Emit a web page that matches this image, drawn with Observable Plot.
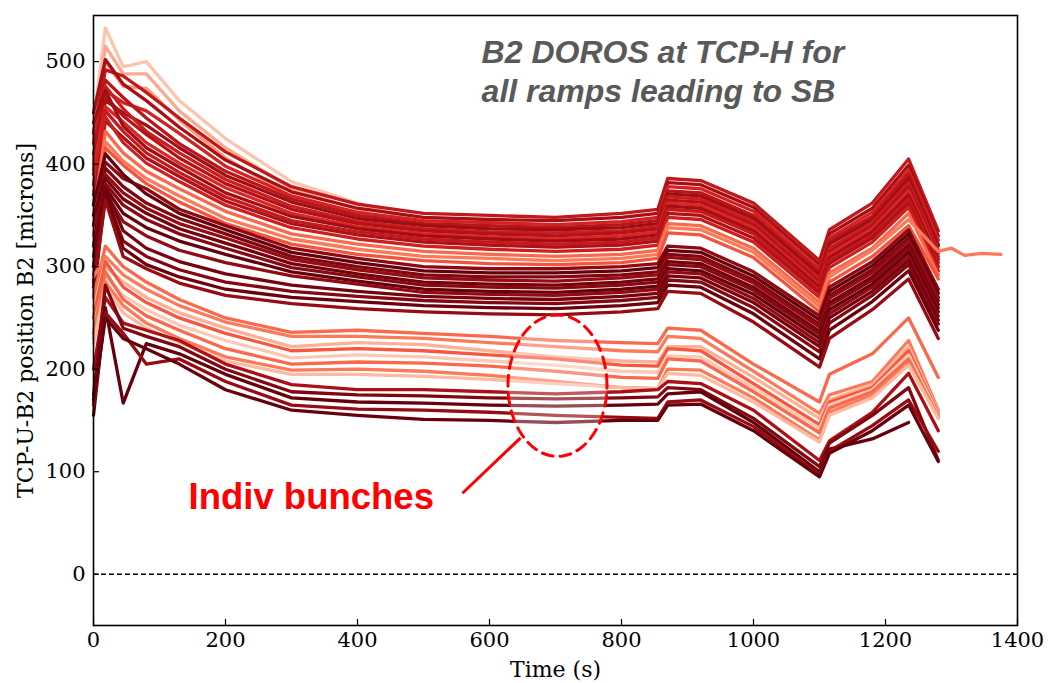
<!DOCTYPE html>
<html><head><meta charset="utf-8">
<script src="https://cdn.jsdelivr.net/npm/d3@7"></script>
<script src="https://cdn.jsdelivr.net/npm/@observablehq/plot@0.6"></script>
<style>body{margin:0;background:#fff;} svg{display:block}</style>
</head><body><div id="chart"></div>
<script>
// sample times (s)
const times = [0, 18, 45, 80, 130, 200, 300, 400, 500, 600, 700, 800, 855, 870, 920, 1000, 1100, 1115, 1180, 1235, 1280];
const xTicks = [0, 200, 400, 600, 800, 1000, 1200, 1400];
const yTicks = [0, 100, 200, 300, 400, 500];

// upper group: light
const u1 = [440, 533, 495, 500, 462, 425, 383, 362, 342, 337, 335, 337, 340, 370, 368, 347, 292, 320, 346, 382, 302];
const u2 = [425, 515, 488, 488, 452, 416, 376, 356, 333, 329, 327, 330, 334, 363, 361, 341, 286, 313, 339, 372, 296];
const u3 = [405, 500, 476, 474, 443, 406, 368, 349, 326, 321, 319, 323, 327, 356, 353, 334, 281, 306, 331, 364, 291];
// upper group: medium red
const m1 = [430, 492, 486, 470, 445, 412, 378, 361, 352, 350, 348, 352, 356, 386, 384, 362, 306, 336, 362, 405, 335];
const m2 = [450, 502, 478, 462, 436, 404, 373, 357, 348, 346, 345, 348, 352, 382, 380, 358, 302, 332, 357, 399, 330];
const m3 = [400, 472, 460, 452, 430, 398, 369, 353, 345, 343, 341, 344, 348, 378, 376, 354, 298, 328, 353, 394, 326];
const m4 = [420, 482, 465, 445, 420, 393, 366, 350, 342, 340, 338, 341, 345, 374, 372, 350, 295, 325, 349, 390, 322];
const m5 = [380, 462, 450, 438, 416, 389, 363, 347, 340, 337, 336, 338, 342, 371, 369, 347, 292, 322, 346, 386, 320];
const m6 = [432, 476, 454, 432, 411, 385, 359, 344, 337, 334, 333, 335, 339, 368, 366, 344, 288, 318, 343, 382, 316];
const m7 = [410, 466, 447, 429, 406, 381, 356, 342, 335, 332, 330, 333, 337, 365, 363, 341, 285, 315, 340, 378, 313];
const m8 = [395, 456, 441, 421, 401, 377, 352, 339, 332, 329, 327, 330, 334, 362, 360, 338, 282, 312, 337, 374, 310];
const m9 = [440, 472, 437, 416, 397, 372, 349, 337, 330, 327, 325, 327, 331, 359, 357, 335, 280, 309, 334, 370, 307];
const m10 = [370, 452, 432, 411, 392, 368, 345, 334, 327, 324, 322, 324, 328, 356, 354, 332, 277, 306, 331, 366, 304];
const m11 = [360, 442, 426, 406, 388, 364, 342, 331, 324, 321, 319, 321, 325, 352, 350, 328, 274, 303, 328, 362, 300];
const m12 = [390, 446, 421, 401, 383, 360, 338, 327, 320, 317, 315, 317, 321, 348, 346, 324, 270, 299, 324, 358, 296];
// upper group: salmon
const s1 = [350, 432, 411, 393, 376, 354, 332, 322, 315, 312, 310, 312, 316, 342, 340, 318, 265, 294, 318, 352, 292];
const s2 = [340, 422, 403, 386, 369, 347, 327, 317, 310, 308, 306, 308, 312, 338, 336, 314, 261, 290, 316, 346, 315];
const s3 = [330, 416, 399, 381, 363, 342, 322, 312, 306, 303, 302, 304, 308, 333, 331, 309, 256, 285, 310, 340, 288];
// continuation of s2 after 1280 s
const s2ExtTimes = [1300, 1320, 1345, 1375];
const s2ExtValues = [318, 311, 313, 312];
// upper group: dark red
const d1 = [340, 402, 386, 376, 356, 340, 318, 308, 300, 298, 298, 300, 303, 320, 318, 295, 252, 280, 305, 336, 278];
const d2 = [360, 410, 390, 371, 352, 336, 314, 304, 296, 294, 294, 296, 299, 316, 314, 291, 248, 276, 301, 332, 274];
const d3v = [320, 396, 378, 362, 347, 332, 310, 300, 292, 290, 290, 292, 295, 312, 310, 287, 244, 272, 297, 328, 270];
const d4 = [300, 390, 372, 357, 342, 328, 307, 297, 289, 287, 286, 289, 292, 309, 307, 284, 241, 269, 294, 325, 267];
const d5 = [350, 386, 366, 352, 337, 323, 303, 293, 285, 283, 282, 285, 288, 305, 303, 280, 237, 265, 290, 321, 263];
const d6 = [290, 381, 360, 346, 332, 318, 299, 290, 282, 280, 279, 282, 285, 302, 300, 277, 234, 262, 287, 318, 260];
const d7 = [310, 377, 352, 338, 325, 312, 295, 286, 278, 276, 275, 278, 281, 298, 296, 273, 230, 258, 283, 314, 256];
const d8 = [280, 372, 344, 330, 316, 304, 291, 283, 275, 273, 272, 275, 278, 295, 293, 269, 226, 254, 280, 310, 252];
const d9 = [300, 376, 335, 318, 305, 293, 282, 276, 271, 269, 268, 271, 274, 291, 289, 265, 222, 250, 276, 306, 248];
const d10 = [285, 370, 325, 310, 297, 285, 276, 271, 267, 265, 264, 267, 270, 287, 285, 260, 217, 245, 272, 302, 244];
const d11 = [270, 372, 318, 302, 290, 278, 270, 266, 262, 260, 259, 262, 265, 282, 280, 254, 210, 238, 266, 296, 238];
const d12 = [280, 365, 310, 298, 284, 272, 264, 259, 256, 254, 253, 256, 259, 276, 274, 246, 202, 230, 258, 288, 230];
// lower group (individual bunches)
const b1 = [270, 320, 300, 285, 268, 250, 236, 238, 235, 232, 228, 226, 225, 240, 238, 205, 168, 195, 215, 250, 192];
const b2 = [290, 310, 292, 278, 262, 246, 232, 232, 230, 226, 222, 218, 217, 232, 230, 198, 157, 175, 188, 228, 160];
const b3 = [260, 300, 285, 270, 255, 240, 222, 226, 224, 218, 212, 208, 207, 222, 222, 192, 152, 170, 185, 222, 158];
const b4 = [250, 305, 280, 265, 250, 235, 218, 220, 218, 214, 210, 204, 203, 220, 218, 186, 146, 168, 182, 218, 156];
const b5 = [240, 290, 272, 258, 243, 228, 211, 214, 212, 208, 204, 198, 197, 213, 212, 182, 142, 165, 180, 214, 155];
const b6 = [235, 295, 268, 252, 238, 220, 205, 207, 206, 203, 198, 192, 191, 210, 208, 178, 138, 162, 178, 210, 153];
const b7 = [230, 285, 262, 245, 230, 212, 199, 200, 198, 194, 188, 182, 181, 200, 199, 172, 131, 158, 175, 206, 154];
const b8 = [225, 280, 255, 240, 226, 208, 195, 195, 193, 190, 186, 182, 181, 196, 194, 168, 129, 155, 172, 204, 152];
const b9 = [200, 270, 245, 238, 228, 205, 185, 180, 180, 178, 176, 178, 180, 188, 186, 160, 111, 130, 158, 196, 140];
const b10 = [175, 282, 240, 232, 222, 200, 178, 175, 174, 172, 171, 172, 173, 182, 180, 152, 105, 128, 155, 182, 111];
const b11 = [155, 260, 167, 225, 215, 195, 172, 168, 167, 165, 164, 165, 166, 176, 178, 148, 100, 122, 132, 148, null];
const b12 = [165, 255, 235, 205, 210, 188, 165, 161, 160, 158, 155, 153, 152, 168, 170, 144, 97, 120, 145, 170, 120];
const b13 = [170, 250, 230, 220, 205, 180, 160, 155, 151, 150, 148, 150, 150, 165, 166, 140, 95, 118, 140, 165, 110];

const lineNames = ["u1","u2","u3","m1","m2","m3","m4","m5","m6","m7","m8","m9","m10","m11","m12","s1","s2","s3",
  "d1","d2","d3","d4","d5","d6","d7","d8","d9","d10","d11","d12",
  "b1","b2","b3","b4","b5","b6","b7","b8","b9","b10","b11","b12","b13"];
const lineShades = [0.22,0.3,0.36,0.78,0.86,0.72,0.8,0.88,0.75,0.83,0.7,0.87,0.77,0.84,0.74,0.5,0.45,0.56,
  0.92,1.0,0.95,0.9,0.98,0.93,1.0,0.91,0.97,0.94,0.99,0.9,
  0.5,0.45,0.28,0.55,0.2,0.5,0.45,0.25,0.85,0.95,1.0,0.9,1.0];
const lineValues = [u1,u2,u3,m1,m2,m3,m4,m5,m6,m7,m8,m9,m10,m11,m12,s1,s2,s3,
  d1,d2,d3v,d4,d5,d6,d7,d8,d9,d10,d11,d12,
  b1,b2,b3,b4,b5,b6,b7,b8,b9,b10,b11,b12,b13];

// annotation constants
const titleLines = ["B2 DOROS at TCP-H for", "all ramps leading to SB"];
const titleX = 588;
const titleY = [499, 461];
const noteText = "Indiv bunches";
const noteX = 144, noteY = 64;
const pointer = {x1: 559, y1: 79, x2: 647, y2: 133};
const ellipse = {cx: 703, cy: 184, rx: 75, ry: 69};

const rows = [];
lineValues.forEach((vals, i) => {
  vals.forEach((v, j) => rows.push({t: times[j], v, id: lineNames[i], shade: lineShades[i]}));
  if (lineNames[i] === "s2") s2ExtTimes.forEach((t, j) => rows.push({t, v: s2ExtValues[j], id: "s2", shade: lineShades[i]}));
});

const ellipsePts = [];
for (let a = 0; a < 360; a += 4) {
  ellipsePts.push({
    x: ellipse.cx + ellipse.rx * Math.cos(a * Math.PI / 180),
    y: ellipse.cy + ellipse.ry * Math.sin(a * Math.PI / 180)
  });
}

const sans = "'Liberation Sans', Arial, sans-serif";
const chart = Plot.plot({
  width: 1048, height: 683,
  marginLeft: 93, marginRight: 31, marginTop: 15, marginBottom: 58,
  style: {fontFamily: "'DejaVu Serif', serif", fontSize: "21px", color: "black", background: "white"},
  x: {domain: [0, 1400]},
  y: {domain: [-50, 545]},
  color: {type: "linear", scheme: "reds", domain: [0, 1]},
  marks: [
    Plot.ruleY([0], {stroke: "black", strokeWidth: 1.3, strokeDasharray: "5,3"}),
    Plot.line(rows, {x: "t", y: "v", z: "id", stroke: "shade", strokeWidth: 3.3, strokeLinejoin: "round"}),
    Plot.line(ellipsePts, {x: "x", y: "y", curve: "linear-closed", stroke: "#ff0000", strokeWidth: 3, strokeDasharray: "11,7", fill: "white", fillOpacity: 0.3}),
    Plot.link([pointer], {x1: "x1", y1: "y1", x2: "x2", y2: "y2", stroke: "#ff0000", strokeWidth: 3}),
    Plot.text([noteText], {x: () => noteX, y: () => noteY, text: d => d, textAnchor: "start", lineAnchor: "bottom", fill: "#ff0000", fontSize: 36.5, fontWeight: "bold", fontFamily: sans}),
    Plot.text(titleLines, {x: () => titleX, y: (d, i) => titleY[i], text: d => d, textAnchor: "start", lineAnchor: "bottom", fill: "#595959", fontSize: 32, fontWeight: "bold", fontStyle: "italic", fontFamily: sans}),
    Plot.frame({stroke: "black", strokeWidth: 1.6}),
    Plot.ruleX(xTicks, {x: d => d, insetTop: 604, stroke: "black", strokeWidth: 1.2}),
    Plot.ruleY(yTicks, {y: d => d, insetRight: 918, stroke: "black", strokeWidth: 1.2}),
    Plot.axisX(xTicks, {tickSize: 0, tickPadding: 7, fontSize: 21, label: null, tickFormat: d => String(d)}),
    Plot.axisY(yTicks, {tickSize: 0, tickPadding: 8, fontSize: 21, label: null, tickFormat: d => String(d)}),
    Plot.text(["Time (s)"], {frameAnchor: "bottom", dy: 51, lineAnchor: "bottom", textAnchor: "middle", fontSize: 22}),
    Plot.text(["TCP-U-B2 position B2 [microns]"], {frameAnchor: "left", rotate: -90, dx: -76, lineAnchor: "top", textAnchor: "middle", fontSize: 22})
  ]
});
document.getElementById("chart").appendChild(chart);
</script>
</body></html>
